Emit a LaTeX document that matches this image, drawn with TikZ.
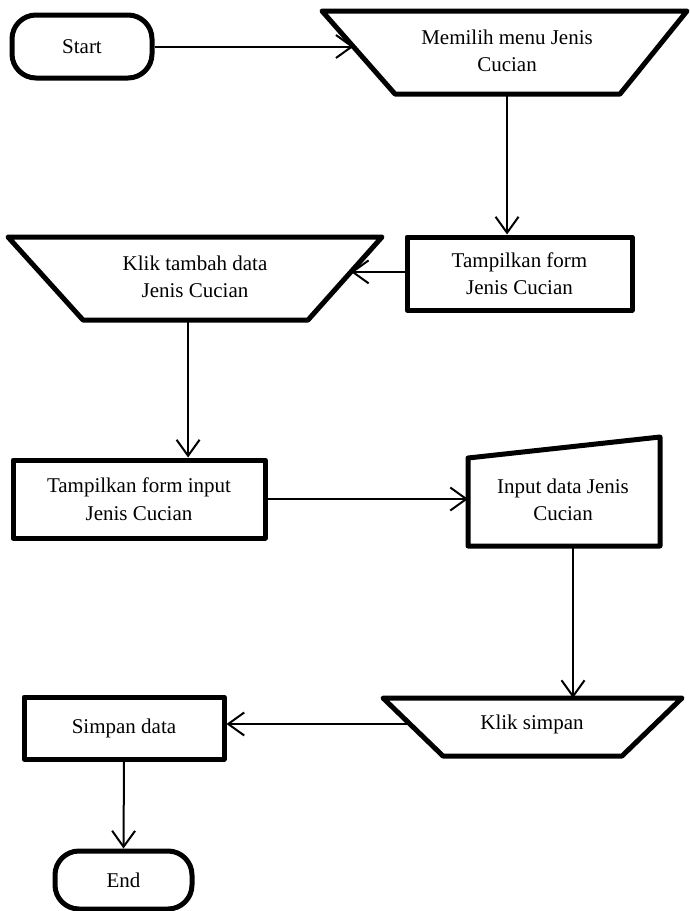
\documentclass[tikz,border=0pt]{standalone}
\usepackage{fontspec}
\setmainfont{Liberation Serif}
\usetikzlibrary{arrows.meta,calc}
\begin{document}
\begin{tikzpicture}[x=1pt,y=-1pt,
  shapeline/.style={line width=5pt, line join=round},
  txt/.style={font=\fontsize{21}{27.5}\selectfont, align=center, inner sep=0pt},
  procbox/.style={shapeline, draw, rectangle, txt},
  termbox/.style={shapeline, draw, rectangle, rounded corners=24pt, txt},
  flow/.style={line width=2pt, -{Straight Barb[length=16pt,width=23pt]}}
]
\useasboundingbox (0,0) rectangle (689,911);
\fill[white] (0,0) rectangle (689,911);

% Start terminator
\node[termbox, minimum width=140pt, minimum height=63pt] (start) at (82,46.5) {Start};

% Manual operation: Memilih menu Jenis Cucian
\coordinate (m1) at (322,11);
\coordinate (m2) at (687,11);
\coordinate (m3) at (620,94);
\coordinate (m4) at (395,94);
\draw[shapeline] (m1) -- (m2) -- (m3) -- (m4) -- cycle;
\node[txt] (memilih) at (507,51) {Memilih menu Jenis\\Cucian};

% Process: Tampilkan form Jenis Cucian
\node[procbox, minimum width=225pt, minimum height=73pt] (form) at (519.5,273.5) {Tampilkan form\\Jenis Cucian};

% Manual operation: Klik tambah data Jenis Cucian
\coordinate (k1) at (8,237);
\coordinate (k2) at (382,237);
\coordinate (k3) at (308,320);
\coordinate (k4) at (83,320);
\draw[shapeline] (k1) -- (k2) -- (k3) -- (k4) -- cycle;
\node[txt] (tambah) at (195,277) {Klik tambah data\\Jenis Cucian};

% Process: Tampilkan form input Jenis Cucian
\node[procbox, minimum width=252pt, minimum height=78pt] (forminput) at (139,499) {Tampilkan form input\\Jenis Cucian};

% Manual input: Input data Jenis Cucian
\coordinate (i1) at (468,458);
\coordinate (i2) at (660,437);
\coordinate (i3) at (660,546);
\coordinate (i4) at (468,546);
\draw[shapeline] (i1) -- (i2) -- (i3) -- (i4) -- cycle;
\node[txt] (inputdata) at (563,500) {Input data Jenis\\Cucian};

% Manual operation: Klik simpan
\coordinate (s1) at (383,698);
\coordinate (s2) at (682,698);
\coordinate (s3) at (622,756);
\coordinate (s4) at (443,756);
\draw[shapeline] (s1) -- (s2) -- (s3) -- (s4) -- cycle;
\node[txt] (klik) at (532,724) {Klik simpan};

% Process: Simpan data
\node[procbox, minimum width=200pt, minimum height=62pt] (simpan) at (124,728) {Simpan data};

% End terminator
\node[termbox, minimum width=137pt, minimum height=58pt] (end) at (123.5,880) {End};

% Connection points on the slanted and lower edges
\coordinate (mIn)  at ($(m1)!0.434!(m4)$);
\coordinate (mOut) at ($(m4)!0.498!(m3)$);
\coordinate (kIn)  at ($(k2)!0.42!(k3)$);
\coordinate (kOut) at ($(k4)!0.467!(k3)$);
\coordinate (iOut) at ($(i4)!0.547!(i3)$);
\coordinate (sIn)  at ($(s1)!0.448!(s4)$);

% Connectors
\draw[flow] (start.east) -- (start.east -| mIn);
\draw[flow] (mOut) -- (mOut |- form.north);
\draw[flow] (kIn -| form.west) -- (kIn);
\draw[flow] (kOut) -- (kOut |- forminput.north);
\draw[flow] (forminput.east) -- (forminput.east -| i1);
\draw[flow] (iOut) -- (iOut |- s1);
\draw[flow] (sIn) -- (sIn -| simpan.east);
\draw[flow] (simpan.south) -- (end.north);
\end{tikzpicture}
\end{document}
